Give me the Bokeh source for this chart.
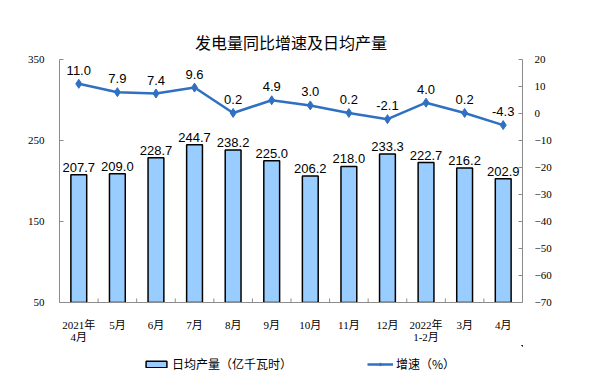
import numpy as np
from bokeh.plotting import figure
from bokeh.layouts import column
from bokeh.models import (FactorRange, Range1d, LinearAxis, FixedTicker, Legend,
                          LegendItem, ColumnDataSource)
from bokeh.core.properties import value
from bokeh.embed import file_html
from bokeh.resources import INLINE

months = ["2021年\n4月", "5月", "6月", "7月", "8月", "9月", "10月", "11月", "12月",
          "2022年\n1-2月", "3月", "4月"]
daily_output = [207.7, 209.0, 228.7, 244.7, 238.2, 225.0, 206.2, 218.0, 233.3, 222.7, 216.2, 202.9]
growth_rate = [11.0, 7.9, 7.4, 9.6, 0.2, 4.9, 3.0, 0.2, -2.1, 4.0, 0.2, -4.3]
left_ticks = [50, 150, 250, 350]
right_ticks = [-70, -60, -50, -40, -30, -20, -10, 0, 10, 20]

title_text = "发电量同比增速及日均产量"
bar_label = "日均产量（亿千瓦时）"
line_label = "增速（%）"

src = ColumnDataSource(dict(
    month=months,
    out=daily_output,
    rate=growth_rate,
    out_txt=[f"{v:.1f}" for v in daily_output],
    rate_txt=[f"{v:.1f}" for v in growth_rate],
))

AXIS_GRAY = "#8c8c8c"
LINE_BLUE = "#2f70c2"
BAR_FILL = "#99ccff"
CJK = "Noto Sans CJK SC"
SERIF = "Liberation Serif"
SANS = "Liberation Sans"

p = figure(width=585, height=345,
           x_range=FactorRange(factors=months, range_padding=0),
           y_range=Range1d(left_ticks[0], left_ticks[-1]),
           output_backend="svg", toolbar_location=None,
           min_border_left=59, min_border_right=63,
           min_border_top=59, min_border_bottom=39)
p.outline_line_color = None
p.grid.grid_line_color = None

p.title.text = title_text
p.title.align = "center"
p.title.text_font = CJK
p.title.text_font_size = "16px"
p.title.text_font_style = "normal"
p.title.text_color = "#000000"
p.title.standoff = 12

p.extra_y_ranges = {"rate": Range1d(right_ticks[0], right_ticks[-1])}

# bars
p.vbar(x="month", top="out", bottom=left_ticks[0], width=0.41, source=src,
       fill_color=BAR_FILL, line_color="#000000", line_width=1.5)
p.text(x="month", y="out", text="out_txt", source=src,
       text_align="center", text_baseline="bottom", y_offset=-3,
       text_font=value(SANS), text_font_size="13px", text_color="#000000")

# line
p.line(x="month", y="rate", source=src, y_range_name="rate",
       line_color=LINE_BLUE, line_width=2.5)
p.scatter(x="month", y="rate", source=src, y_range_name="rate",
          marker="diamond", size=9, fill_color=LINE_BLUE, line_color=LINE_BLUE)
p.text(x="month", y="rate", text="rate_txt", source=src, y_range_name="rate",
       text_align="center", text_baseline="bottom", y_offset=-9,
       text_font=value(SANS), text_font_size="13px", text_color="#000000")

# category boundary ticks on x axis (inward)
bounds = np.arange(1, len(months))
p.scatter(x=bounds, y=[left_ticks[0]] * len(bounds), marker="dash", angle=np.pi / 2,
          size=8, line_color=AXIS_GRAY, line_width=1)

# axes
xa = p.xaxis[0]
xa.axis_line_color = AXIS_GRAY
xa.major_tick_line_color = None
xa.minor_tick_line_color = None
xa.major_label_text_font = SERIF + ", " + CJK
xa.major_label_text_font_size = "11px"
xa.major_label_standoff = 10
xa.major_label_text_line_height = 1.0
xa.major_label_text_color = "#000000"

ya = p.yaxis[0]
ya.ticker = FixedTicker(ticks=left_ticks)
ya.axis_line_color = AXIS_GRAY
ya.major_tick_line_color = AXIS_GRAY
ya.major_tick_in = 4
ya.major_tick_out = 0
ya.minor_tick_line_color = None
ya.major_label_text_font = SERIF
ya.major_label_text_font_size = "11px"
ya.major_label_standoff = 15
ya.major_label_text_color = "#000000"

ra = LinearAxis(y_range_name="rate", ticker=FixedTicker(ticks=right_ticks))
ra.axis_line_color = AXIS_GRAY
ra.major_tick_line_color = AXIS_GRAY
ra.major_tick_in = 4
ra.major_tick_out = 0
ra.minor_tick_line_color = None
ra.major_label_text_font = SERIF
ra.major_label_text_font_size = "11px"
ra.major_label_standoff = 12
ra.major_label_text_color = "#000000"
p.add_layout(ra, "right")

# legend strip (separate figure so the legend is not clipped); its frame is
# aligned with the main frame by the column layout. The series are plotted
# outside its view range, so only the legend swatches show.
lg = figure(width=585, height=30, x_range=Range1d(0, 1), y_range=Range1d(0, 1),
            x_axis_type=None, y_axis_type=None,
            output_backend="svg", toolbar_location=None,
            min_border_left=0, min_border_right=0, min_border_top=0, min_border_bottom=0)
lg.outline_line_color = None
lg.grid.grid_line_color = None
leg_bar = lg.vbar(x=daily_output, top=daily_output, bottom=left_ticks[0], width=0.41,
                  fill_color=BAR_FILL, line_color="#000000", line_width=1.5)
leg_line = lg.line(x=daily_output, y=growth_rate, line_color=LINE_BLUE, line_width=2.5)
leg_pts = lg.scatter(x=daily_output, y=growth_rate, marker="diamond", size=6,
                     fill_color=LINE_BLUE, line_color=LINE_BLUE)

legend = Legend(items=[LegendItem(label=bar_label, renderers=[leg_bar]),
                       LegendItem(label=line_label, renderers=[leg_line, leg_pts])],
                orientation="horizontal", location=(84, 3),
                glyph_width=26, glyph_height=8, label_standoff=3, spacing=75,
                padding=0, margin=0, border_line_color=None, background_fill_alpha=0,
                label_text_font=CJK, label_text_font_size="12px",
                label_text_color="#000000")
lg.add_layout(legend, "center")

layout = column(p, lg, spacing=0)
open("out.html", "w").write(file_html(layout, INLINE))
